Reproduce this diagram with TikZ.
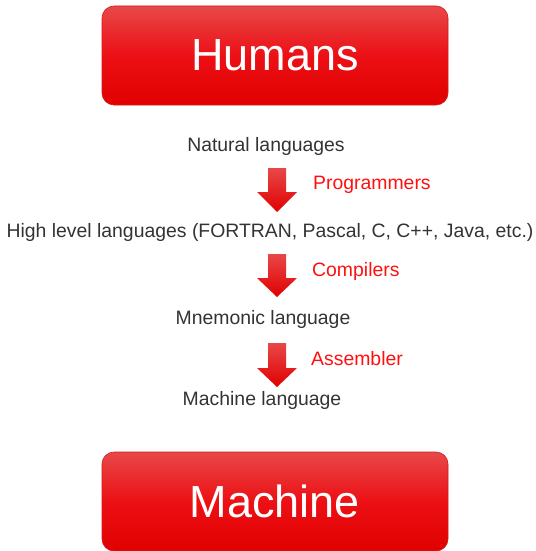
\documentclass[tikz,border=0pt]{standalone}
\usepackage{fontspec}
\setmainfont{Liberation Sans}
\begin{document}
\begin{tikzpicture}[x=1pt,y=1pt,
  box/.style={rounded corners=12pt, draw=boxedge, line width=0.6pt,
    top color=boxtop, bottom color=boxbot, middle color=boxmid,
    minimum width=346pt, minimum height=99pt, text=white,
    font=\fontsize{45}{50}\selectfont},
  lang/.style={text=langgray, font=\fontsize{19.4}{22}\selectfont, inner sep=0pt},
  tool/.style={text=toolred, font=\fontsize{19.4}{22}\selectfont, inner sep=0pt, anchor=west},
  blockarrow/.style={top color=boxtop, bottom color=boxbot, draw=none}
]
\definecolor{boxtop}{HTML}{E84848}
\definecolor{boxmid}{HTML}{EC1015}
\definecolor{boxbot}{HTML}{E00000}
\definecolor{boxedge}{HTML}{D81818}
\definecolor{langgray}{HTML}{333333}
\definecolor{toolred}{HTML}{FF1010}
\useasboundingbox (0,0) rectangle (535,-551);

\node[box] (humans) at (275,-55.5) {Humans};
\node[box] (machine) at (275,-501.5) {Machine};

\node[lang] (natural) at (266,-146) {Natural languages};
\node[lang] (high) at (270,-232) {High level languages (FORTRAN, Pascal, C, C++, Java, etc.)};
\node[lang] (mnem) at (263,-319) {Mnemonic language};
\node[lang] (mach) at (262,-400) {Machine language};

\node[tool] (prog) at (313,-185) {Programmers};
\node[tool] (comp) at (312,-271) {Compilers};
\node[tool] (asm) at (311,-359) {Assembler};

% block arrows
\foreach \t/\b/\p in {168/192/212, 254/278/297, 343/368/387}{
  \shade[blockarrow] (268,-\t) -- (286,-\t) -- (286,-\b) -- (297,-\b) -- (277,-\p)
    -- (257,-\b) -- (268,-\b) -- cycle;
}
\end{tikzpicture}
\end{document}
